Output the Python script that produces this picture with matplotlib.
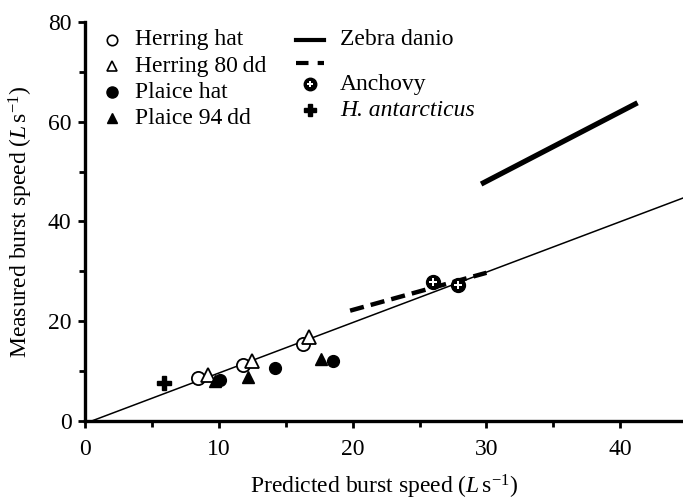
import matplotlib
matplotlib.use("Agg")
import matplotlib.pyplot as plt
from matplotlib.ticker import MultipleLocator

plt.rcParams['font.family'] = ['Liberation Serif', 'DejaVu Serif']
plt.rcParams['mathtext.fontset'] = 'custom'
plt.rcParams['mathtext.rm'] = 'Liberation Serif'
plt.rcParams['mathtext.it'] = 'Liberation Serif:italic'

# predicted vs measured burst speed (L/s)
herring_hat_x = [8.4, 11.8, 16.3]
herring_hat_y = [8.6, 11.3, 15.5]
herring_80_x = [9.2, 12.5, 16.7]
herring_80_y = [9.1, 12.1, 16.8]
plaice_hat_x = [10.1, 14.2, 18.5]
plaice_hat_y = [8.1, 10.5, 12.1]
plaice_94_x = [9.7, 12.2, 17.6]
plaice_94_y = [7.9, 8.8, 12.5]
anchovy_x = [26.0, 27.9]
anchovy_y = [27.8, 27.3]
hant_x = [5.9]
hant_y = [7.5]

zebra_x = [29.6, 41.3]
zebra_y = [47.5, 63.8]
anchovy_line_x = [19.8, 30.0]
anchovy_line_y = [22.1, 29.7]
unity_x = [0.5, 45]
unity_y = [0.0, 45]

FS = 17

fig = plt.figure(figsize=(6.83, 5.01), dpi=100)
ax = fig.add_axes([0.125, 0.160, 0.875, 0.796])

ax.plot(unity_x, unity_y, color='black', lw=1.1, zorder=2)
ax.plot(zebra_x, zebra_y, color='black', lw=3.8, solid_capstyle='butt', zorder=2)
ax.plot(anchovy_line_x, anchovy_line_y, color='black', lw=3.2,
        dashes=(3.2, 1.6), zorder=2)

ax.plot(herring_hat_x, herring_hat_y, 'o', ms=9.5, mfc='white', mec='black', mew=1.3, ls='none', zorder=3)
ax.plot(herring_80_x, herring_80_y, '^', ms=9.5, mfc='white', mec='black', mew=1.3, ls='none', zorder=3)
ax.plot(plaice_hat_x, plaice_hat_y, 'o', ms=8.5, color='black', ls='none', zorder=3)
ax.plot(plaice_94_x, plaice_94_y, '^', ms=8.5, color='black', ls='none', zorder=3)
ax.plot(anchovy_x, anchovy_y, 'o', ms=10, color='black', ls='none', zorder=3)
ax.plot(anchovy_x, anchovy_y, 'P', ms=6, mfc='white', mec='white', mew=0, ls='none', zorder=4)
ax.plot(hant_x, hant_y, 'P', ms=10, color='black', ls='none', zorder=3)

ax.set_xlim(0, 44.7)
ax.set_ylim(0, 80)
ax.xaxis.set_major_locator(MultipleLocator(10))
ax.xaxis.set_minor_locator(MultipleLocator(5))
ax.yaxis.set_major_locator(MultipleLocator(20))
ax.yaxis.set_minor_locator(MultipleLocator(10))
for side in ['top', 'right']:
    ax.spines[side].set_visible(False)
for side in ['left', 'bottom']:
    ax.spines[side].set_linewidth(2.4)
ax.tick_params(which='both', direction='out', width=2.0, labelsize=FS)
ax.tick_params(which='major', length=5)
ax.tick_params(which='minor', length=4)
ax.tick_params(axis='x', pad=8)
ax.tick_params(axis='y', pad=5)

ax.set_xlabel(r'Predicted burst speed ($L\,\mathrm{s}^{-1}$)', fontsize=FS, labelpad=9)
ax.set_ylabel(r'Measured burst speed ($L\,\mathrm{s}^{-1}$)', fontsize=FS, labelpad=9)

# hand-placed key, two columns
tr = ax.transAxes
left_rows = [0.955, 0.889, 0.824, 0.759]
left_labels = ['Herring hat', 'Herring 80\u2009dd', 'Plaice hat', 'Plaice 94\u2009dd']
left_styles = [dict(marker='o', mfc='white', mec='black', mew=1.2, ms=7.5),
               dict(marker='^', mfc='white', mec='black', mew=1.2, ms=7),
               dict(marker='o', color='black', ms=8),
               dict(marker='^', color='black', ms=7.5)]
for yy, lab, st in zip(left_rows, left_labels, left_styles):
    ax.plot([0.045], [yy], transform=tr, clip_on=False, ls='none', **st)
    ax.text(0.083, yy, lab, transform=tr, fontsize=FS, va='center', ha='left')

ax.plot([0.353, 0.400], [0.955, 0.955], transform=tr, color='black', lw=3, clip_on=False)
ax.text(0.426, 0.955, 'Zebra danio', transform=tr, fontsize=FS, va='center', ha='left')
ax.plot([0.353, 0.400], [0.897, 0.897], transform=tr, color='black', lw=3,
        dashes=(3.0, 2.2), clip_on=False)
ax.plot([0.376], [0.844], 'o', ms=9, color='black', transform=tr, clip_on=False)
ax.plot([0.376], [0.844], 'P', ms=5, mfc='white', mec='white', mew=0, transform=tr, clip_on=False)
ax.text(0.426, 0.844, 'Anchovy', transform=tr, fontsize=FS, va='center', ha='left')
ax.plot([0.376], [0.779], 'P', ms=9, color='black', transform=tr, clip_on=False)
ax.text(0.426, 0.779, 'H. antarcticus', transform=tr, fontsize=FS, va='center', ha='left',
        style='italic')

fig.savefig('out.png', dpi=100)
